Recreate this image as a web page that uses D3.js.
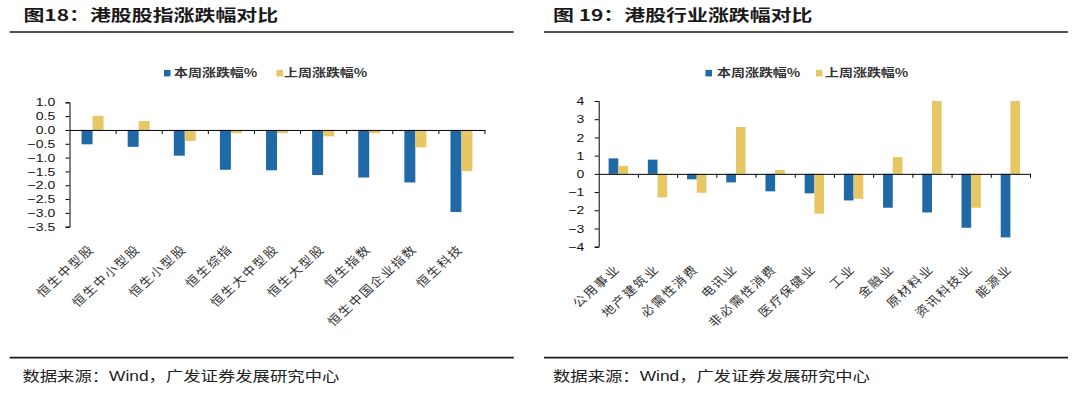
<!DOCTYPE html>
<html><head><meta charset="utf-8">
<script src="https://cdn.jsdelivr.net/npm/d3@7"></script>
<style>body{margin:0;background:#fff}svg{display:block}</style>
</head><body>
<script>
// ---------- DATA ----------
const catsL = ["恒生中型股","恒生中小型股","恒生小型股","恒生综指","恒生大中型股","恒生大型股","恒生指数","恒生中国企业指数","恒生科技"];
const thisWeekL = [-0.52,-0.61,-0.93,-1.44,-1.46,-1.63,-1.72,-1.90,-2.97];
const lastWeekL = [0.51,0.32,-0.40,-0.12,-0.12,-0.23,-0.12,-0.63,-1.49];
const ticksL = [1.0,0.5,0.0,-0.5,-1.0,-1.5,-2.0,-2.5,-3.0,-3.5];

const catsR = ["公用事业","地产建筑业","必需性消费","电讯业","非必需性消费","医疗保健业","工业","金融业","原材料业","资讯科技业","能源业"];
const thisWeekR = [0.85,0.78,-0.30,-0.47,-0.96,-1.07,-1.46,-1.86,-2.12,-2.96,-3.49];
const lastWeekR = [0.43,-1.29,-1.04,2.57,0.21,-2.19,-1.37,0.92,4.0,-1.86,4.0];
const ticksR = [4,3,2,1,0,-1,-2,-3,-4];

const seriesNames = ["本周涨跌幅%","上周涨跌幅%"];
const titleL = "图18：港股股指涨跌幅对比";
const titleR = "图 19：港股行业涨跌幅对比";
const sourceText = "数据来源：Wind，广发证券发展研究中心";

// ---------- STYLE ----------
const BLUE = "#1F69A6", YELLOW = "#E6C763";
const CJK = "'Noto Sans CJK SC','Noto Sans',sans-serif";
const LAT = "'Liberation Sans',Arial,'Noto Sans CJK SC',sans-serif";

const svg = d3.select("body").append("svg").attr("width",1080).attr("height",394);

function stext(x, y, txt, o){
  const g = svg.append("g").attr("transform",`translate(${x},${y}) scale(${o.sx||1},1)`);
  g.append("text").text(txt)
    .attr("font-family", o.family||CJK)
    .attr("font-size", o.size)
    .attr("font-weight", o.weight||"normal")
    .attr("fill", o.fill||"#222")
    .attr("text-anchor", o.anchor||"start")
    .attr("letter-spacing", o.spacing||0);
  return g;
}

function panel(cfg){
  const {cats, a, b, ticks, x0, x1, yTop, yBot, dom, fmt, labelY, tickVals} = cfg;
  const x = d3.scaleBand().domain(cats).range([x0,x1]).padding(0);
  const y = d3.scaleLinear().domain(dom).range([yBot,yTop]);
  const bw = x.bandwidth()*cfg.barFrac;
  const g = svg.append("g");

  // bars
  g.selectAll(".a").data(cats).join("rect")
    .attr("x", d=>x(d)+x.bandwidth()/2-bw)
    .attr("width", bw)
    .attr("y", (d,i)=>Math.min(y(a[i]),y(0)))
    .attr("height", (d,i)=>Math.abs(y(a[i])-y(0)))
    .attr("fill", BLUE);
  g.selectAll(".b").data(cats).join("rect")
    .attr("x", d=>x(d)+x.bandwidth()/2)
    .attr("width", bw)
    .attr("y", (d,i)=>Math.min(y(b[i]),y(0)))
    .attr("height", (d,i)=>Math.abs(y(b[i])-y(0)))
    .attr("fill", YELLOW);

  // y axis
  const sxT = 1.22;
  const ya = g.append("g").attr("transform",`translate(${x0},0)`)
    .call(d3.axisLeft(y).tickValues(ticks).tickFormat(d3.format(fmt)).tickSize(4).tickPadding(10.3));
  ya.select(".domain").attr("stroke","#000");
  ya.selectAll(".tick line").attr("stroke","#000");
  ya.selectAll(".tick text")
    .attr("font-family",LAT).attr("font-size",11.5).attr("fill","#111")
    .attr("x", -14.3/sxT).attr("transform",`scale(${sxT},1)`);

  // category axis at zero
  const xi = d3.scaleLinear().domain([0,cats.length]).range([x0,x1]);
  const xa = g.append("g").attr("transform",`translate(0,${y(0)})`)
    .call(d3.axisBottom(xi).tickValues(d3.range(1,cats.length+1)).tickFormat("").tickSize(4).tickSizeOuter(0));
  xa.select(".domain").attr("stroke","#000");
  xa.selectAll(".tick line").attr("stroke","#000");

  // rotated labels
  cats.forEach(c=>{
    const ax = x(c)+x.bandwidth()/2+2.5;
    svg.append("g").attr("transform",`translate(${ax},${labelY}) scale(1.1,1) rotate(-45)`)
      .append("text").text(c)
      .attr("font-family",CJK).attr("font-size",12).attr("letter-spacing",1.6)
      .attr("fill","#333").attr("text-anchor","end");
  });
}

panel({cats:catsL, a:thisWeekL, b:lastWeekL, ticks:ticksL, x0:69.5, x1:484.5,
  yTop:102.3, yBot:226.7, dom:[-3.5,1.0], fmt:".1f", labelY:250, barFrac:0.238});
panel({cats:catsR, a:thisWeekR, b:lastWeekR, ticks:ticksR, x0:598.7, x1:1030,
  yTop:101, yBot:246.7, dom:[-4,4], fmt:"d", labelY:270, barFrac:0.247});

// legends
function legend(sqA, txA, sqB, txB){
  const ly = 73.4;
  svg.append("rect").attr("x",sqA).attr("y",ly-3.5).attr("width",6.5).attr("height",6.5).attr("fill",BLUE);
  stext(txA, ly+4, seriesNames[0], {size:11, sx:1.27, weight:"bold", fill:"#333"});
  svg.append("rect").attr("x",sqB).attr("y",ly-3.5).attr("width",6.5).attr("height",6.5).attr("fill",YELLOW);
  stext(txB, ly+4, seriesNames[1], {size:11, sx:1.27, weight:"bold", fill:"#333"});
}
legend(164, 174, 276.5, 284);
legend(705.5, 717, 816, 825);

// titles
stext(23.4, 21, titleL, {size:15.5, sx:1.35, weight:"bold", fill:"#1a1a1a"});
stext(553, 21, titleR, {size:15.5, sx:1.35, weight:"bold", fill:"#1a1a1a"});

// rules
[[9.7,513.8,32],[9.7,513.8,357.6],[544,1068,32],[544,1068,357.6]].forEach(([a,b,yy])=>{
  svg.append("line").attr("x1",a).attr("x2",b).attr("y1",yy).attr("y2",yy)
    .attr("stroke","#1a1a1a").attr("stroke-width",1.6);
});

// sources
stext(22.4, 381, sourceText, {size:14, sx:1.24, family:LAT, fill:"#222"});
stext(553, 381, sourceText, {size:14, sx:1.24, family:LAT, fill:"#222"});
</script>
</body></html>
